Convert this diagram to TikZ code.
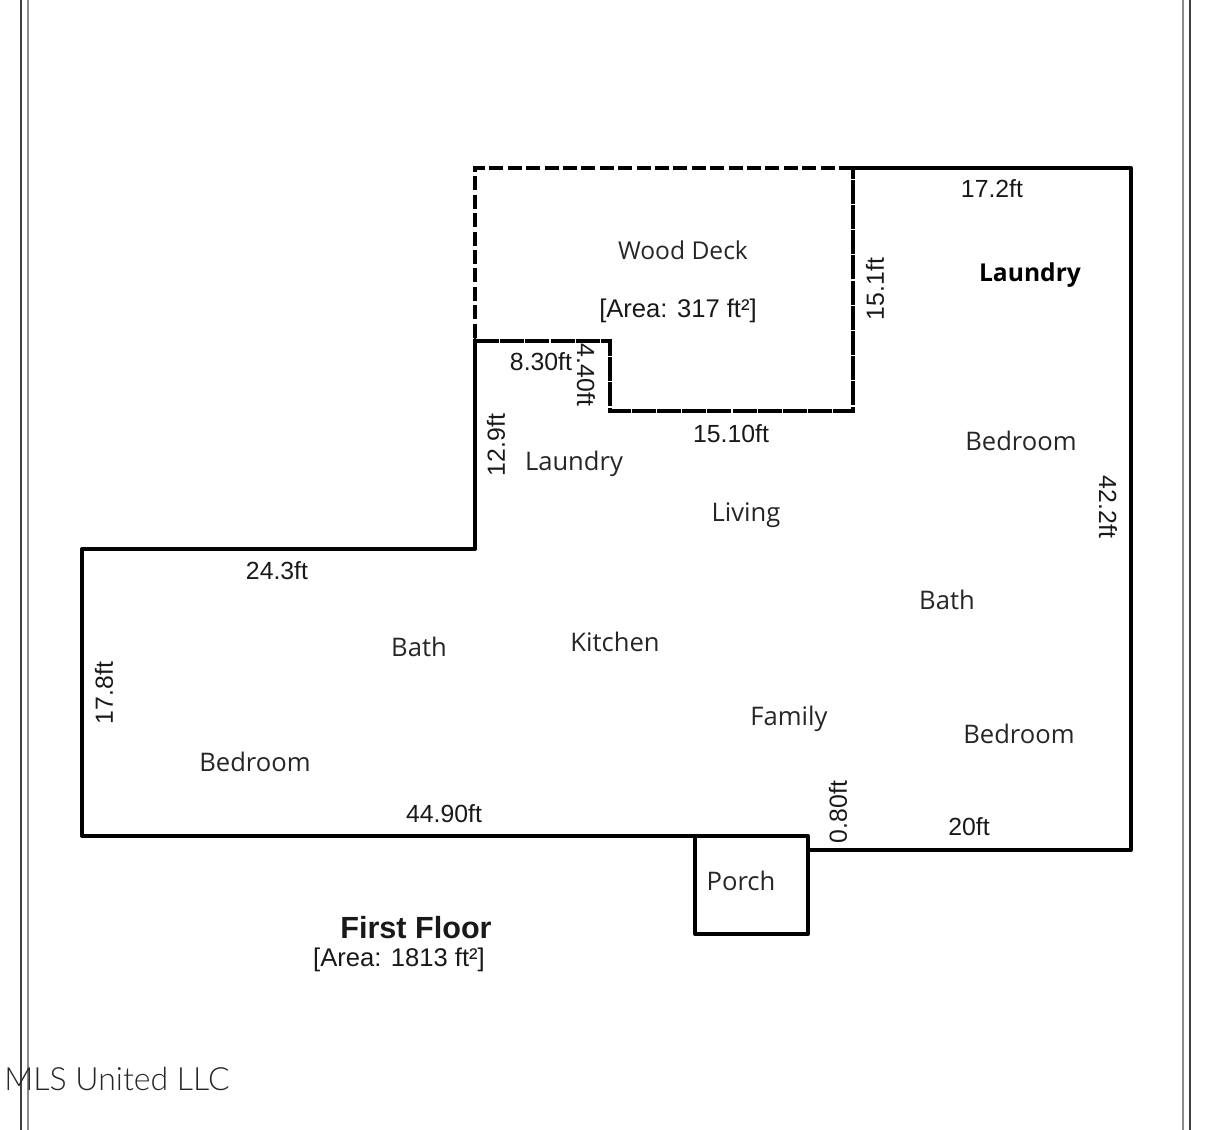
\documentclass[tikz,border=0pt]{standalone}
\usepackage{fontspec}
\setmainfont{Open Sans}
\newfontfamily\dimfont{Liberation Sans}
\tikzset{>=stealth}
\tikzset{
  frameline/.style={line width=1.2pt},
  wall/.style={line width=2pt,line cap=round,line join=round},
  deck/.style={line width=2pt,dash pattern=on 7pt off 2.2pt},
  deckin/.style={line width=1.9pt,dash pattern=on 12pt off .6pt},
  room/.style={font=\fontsize{12.8}{15}\selectfont,text=black!85,inner sep=0pt},
  dimen/.style={font=\dimfont\fontsize{12.4}{15}\selectfont,text=black!90,inner sep=0pt},
  areatext/.style={font=\dimfont\fontsize{12.8}{15}\selectfont,text=black!90,inner sep=0pt},
}
\begin{document}
\begin{tikzpicture}[x=0.5pt,y=-0.5pt]
      \useasboundingbox (0,0) rectangle (1222,1130);
      % page frame
      \draw[frameline,black!75] (21,0)--(21,1130);
      \draw[frameline,black!45] (28,0)--(28,1130);
      \draw[frameline,black!45] (1183,0)--(1183,1130);
      \draw[frameline,black!75] (1190,0)--(1190,1130);

      % walls
      \draw[wall] (853,168)--(1131,168)--(1131,850)--(808,850);
      \draw[wall] (475,340)--(475,549)--(82,549)--(82,836)--(695,836);
      \draw[wall] (695,836) rectangle (808,934);

      % deck
      \draw[deck] (853,168)--(475,168)--(475,340);
      \draw[deckin] (475,341)--(610,341)--(610,411)--(853,411)--(853,168);

      % rooms
      \node[room,font=\fontsize{12.3}{15}\selectfont] (deckname) at (683,250) {Wood Deck};
      \node[areatext] (deckarea) at (678,311) {[Area: 317 ft²]};
      \node[room,font=\bfseries\fontsize{12.3}{15}\selectfont,text=black] (laundrytop) at (1030,275) {Laundry};
      \node[room] (bedroomr) at (1021,441) {Bedroom};
      \node[room] (laundry) at (574,464) {Laundry};
      \node[room] (living) at (746,515) {Living};
      \node[room] (bathr) at (947,600) {Bath};
      \node[room] (bathl) at (419,647) {Bath};
      \node[room] (kitchen) at (615,642) {Kitchen};
      \node[room] (family) at (789,719) {Family};
      \node[room] (bedroomb) at (1019,734) {Bedroom};
      \node[room] (bedrooml) at (255,762) {Bedroom};
      \node[room] (porch) at (741,881) {Porch};

      % dimensions
      \node[dimen] (dima) at (992,189) {17.2ft};
      \node[dimen,rotate=90] (dimb) at (875,289) {15.1ft};
      \node[dimen] (dimc) at (541,362) {8.30ft};
      \node[dimen,rotate=-90] (dimd) at (586,375) {4.40ft};
      \node[dimen] (dime) at (731,434) {15.10ft};
      \node[dimen,rotate=90] (dimf) at (496,445) {12.9ft};
      \node[dimen,rotate=-90] (dimg) at (1108,507) {42.2ft};
      \node[dimen] (dimh) at (277,571) {24.3ft};
      \node[dimen,rotate=90] (dimi) at (104,693) {17.8ft};
      \node[dimen] (dimj) at (444,814) {44.90ft};
      \node[dimen,rotate=90] (dimk) at (838,812) {0.80ft};
      \node[dimen] (diml) at (969,827) {20ft};

      % title
      \node[dimen,font=\dimfont\bfseries\fontsize{15.3}{17}\selectfont] (title) at (416,928) {First Floor};
      \node[areatext] (area) at (399,960) {[Area: 1813 ft²]};

      % watermark
      \node[inner sep=0pt,font=\fontspec{Lato Light}\fontsize{16}{18}\selectfont,text=black!85] (mark) at (117,1079) {MLS United LLC};
\end{tikzpicture}
\end{document}
